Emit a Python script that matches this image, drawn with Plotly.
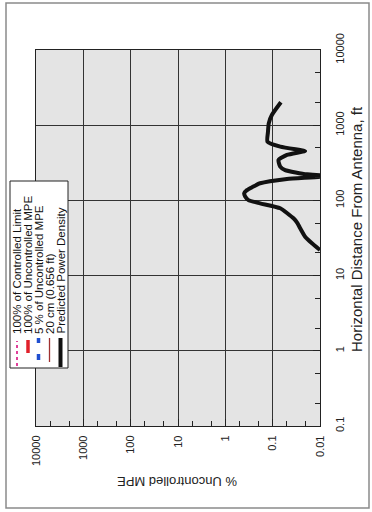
import plotly.graph_objects as go

# ---- data ----
distance_ft = [21.9, 26.9, 32.9, 42.6, 50.0, 57.8, 78.5, 91.4, 101, 113, 124, 137, 150, 169, 193,
               207, 214, 222, 253, 281, 344, 402, 454, 468, 518, 604, 800, 1059, 1368, 2018]
pct_mpe = [0.010, 0.0148, 0.0206, 0.0262, 0.030, 0.0363, 0.0693, 0.184, 0.325, 0.381, 0.40, 0.35,
           0.271, 0.184, 0.050, 0.010, 0.008, 0.0189, 0.0545, 0.0693, 0.0753, 0.050, 0.0206, 0.0262,
           0.069, 0.129, 0.126, 0.121, 0.104, 0.067]

mpe_ticks = [10000, 1000, 100, 10, 1, 0.1, 0.01]
mpe_tick_labels = ["10000", "1000", "100", "10", "1", "0.1", "0.01"]
dist_ticks = [0.1, 1, 10, 100, 1000, 10000]
dist_tick_labels = ["0.1", "1", "10", "100", "1000", "10000"]

legend_labels = ["100% of Controlled Limit", "100% of Uncontrolled MPE", "5 % of Uncontrolled MPE",
                 "20 cm (0.656 ft)", "Predicted Power Density"]

FONT = "Liberation Sans, Arial, sans-serif"
W, H = 372, 512
L, R, T, B = 36, 52, 50, 86
PW, PH = W - L - R, H - T - B


def px(xp):
    return (xp - L) / PW


def py(yp):
    return (H - B - yp) / PH


fig = go.Figure()
fig.add_trace(go.Scatter(
    x=pct_mpe, y=distance_ft, mode="lines",
    line=dict(color="#111111", width=4, shape="spline", smoothing=0.5),
    showlegend=False, hoverinfo="skip"))

axis_common = dict(
    type="log", showgrid=True, gridcolor="#333333", gridwidth=1.2,
    showline=True, mirror=True, linecolor="#222222", linewidth=1.2,
    ticks="inside", ticklen=7, tickcolor="#222222", tickangle=-90,
    tickfont=dict(family=FONT, size=11, color="#222222"),
    minor=dict(ticks="inside", ticklen=5, tickcolor="#222222", showgrid=False),
    zeroline=False, fixedrange=True, automargin=False,
)

fig.update_xaxes(range=[4, -2], tickmode="array", tickvals=mpe_ticks, ticktext=mpe_tick_labels,
                 ticklabelstandoff=4, **axis_common)
fig.update_yaxes(range=[-1, 4], side="right", tickmode="array", tickvals=dist_ticks,
                 ticktext=dist_tick_labels, ticklabelstandoff=10, **axis_common)

shapes = []
# outer frame
shapes.append(dict(type="rect", xref="paper", yref="paper", x0=px(6), x1=px(369), y0=py(508), y1=py(3),
                   line=dict(color="#8a8a8a", width=1.5), layer="below"))
# legend box
shapes.append(dict(type="rect", xref="paper", yref="paper", x0=px(10), x1=px(68), y0=py(368), y1=py(181),
                   fillcolor="white", line=dict(color="#222222", width=1)))

row_x = [17, 28, 38.5, 49.5, 60.5]
sym_styles = [
    [dict(y0=341, y1=366, color="#e0409a", width=2, dash="dot")],
    [dict(y0=340, y1=353, color="#e0202a", width=3.5, dash="solid")],
    [dict(y0=338, y1=343, color="#1f4fd0", width=3.5, dash="solid"),
     dict(y0=354, y1=360, color="#1f4fd0", width=3.5, dash="solid")],
    [dict(y0=338, y1=362, color="#a03030", width=1.3, dash="solid")],
    [dict(y0=338, y1=367, color="#111111", width=4, dash="solid")],
]
for xr, segs in zip(row_x, sym_styles):
    for s in segs:
        shapes.append(dict(type="line", xref="paper", yref="paper", x0=px(xr), x1=px(xr),
                           y0=py(s["y1"]), y1=py(s["y0"]),
                           line=dict(color=s["color"], width=s["width"], dash=s["dash"])))

annotations = []
for xr, lab in zip(row_x, legend_labels):
    annotations.append(dict(xref="paper", yref="paper", x=px(xr), y=py(336), text=lab, textangle=-90,
                            showarrow=False, xanchor="center", yanchor="bottom",
                            font=dict(family=FONT, size=11.5, color="#111111")))

annotations.append(dict(xref="paper", yref="paper", x=px(177), y=py(482), text="% Uncontrolled MPE",
                        textangle=180, showarrow=False, xanchor="center", yanchor="middle",
                        font=dict(family=FONT, size=13, color="#222222")))
annotations.append(dict(xref="paper", yref="paper", x=px(356), y=py(229),
                        text="Horizontal Distance From Antenna, ft",
                        textangle=-90, showarrow=False, xanchor="center", yanchor="middle",
                        font=dict(family=FONT, size=15, color="#222222")))

fig.update_layout(
    width=W, height=H, margin=dict(l=L, r=R, t=T, b=B),
    paper_bgcolor="white", plot_bgcolor="#e4e4e4",
    shapes=shapes, annotations=annotations, showlegend=False,
)

fig.write_html("out.html", config={"displayModeBar": False},
               post_script="document.body.style.margin='0';document.body.style.overflow='hidden';")
